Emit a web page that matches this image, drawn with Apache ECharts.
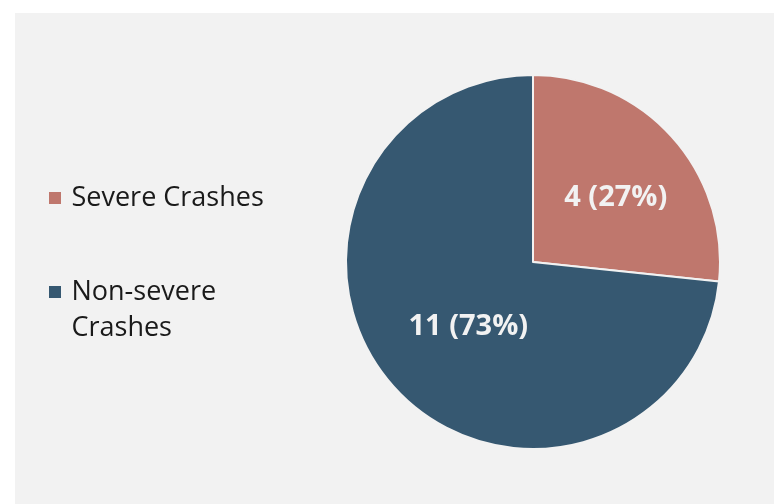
<!DOCTYPE html>
<html>
<head>
<meta charset="utf-8">
<script src="https://cdn.jsdelivr.net/npm/echarts@6/dist/echarts.min.js"></script>
<style>
  html, body { margin: 0; padding: 0; background: #ffffff; }
  #chart { position: absolute; left: 15px; top: 13px; width: 759px; height: 491px; background: #f2f2f2; }
</style>
</head>
<body>
<div id="chart"></div>
<script>
// data
const categories = ['Severe Crashes', 'Non-severe Crashes'];
const crashCounts = [4, 11];
const sliceColors = ['#bf776d', '#365871'];

const chart = echarts.init(document.getElementById('chart'));
const total = crashCounts.reduce((a, b) => a + b, 0);
const fontFamily = '"Open Sans", "Noto Sans", sans-serif';

const legendText = { color: '#1a1a1a', fontSize: 27, fontFamily: fontFamily, lineHeight: 36 };
const gap = '\u2009';

// label nudges (padding shifts centred text)
const labelPads = [[0, 0, 40, 22], [0, 0, 0, 14]];

const option = {
    animation: false,
    legend: [
        {
            data: [categories[0]],
            orient: 'vertical',
            left: 27,
            top: 162,
            icon: 'rect',
            itemWidth: 14,
            itemHeight: 14,
            textStyle: legendText,
            formatter: (name) => gap + name
        },
        {
            data: [categories[1]],
            orient: 'vertical',
            left: 27,
            top: 220,
            icon: 'rect',
            itemWidth: 14,
            itemHeight: 14,
            textStyle: legendText,
            // blank first line keeps the icon level with the first text line
            formatter: (name) => ' \n' + gap + name.replace(' ', '\n' + gap)
        }
    ],
    series: [{
        type: 'pie',
        center: [518, 249],
        radius: 187,
        startAngle: 90,
        clockwise: true,
        itemStyle: { borderColor: '#f2f2f2', borderWidth: 2 },
        label: {
            show: true,
            position: 'inside',
            color: '#f2f2f2',
            fontSize: 29,
            fontWeight: 'bold',
            fontFamily: fontFamily,
            formatter: (p) => p.value + ' (' + Math.round(p.value / total * 100) + '%)'
        },
        labelLine: { show: false },
        emphasis: { disabled: true },
        data: categories.map((name, i) => ({
            name: name,
            value: crashCounts[i],
            itemStyle: { color: sliceColors[i] },
            label: { padding: labelPads[i] }
        }))
    }]
};

chart.setOption(option);
window.addEventListener('resize', () => chart.resize());
</script>
</body>
</html>
